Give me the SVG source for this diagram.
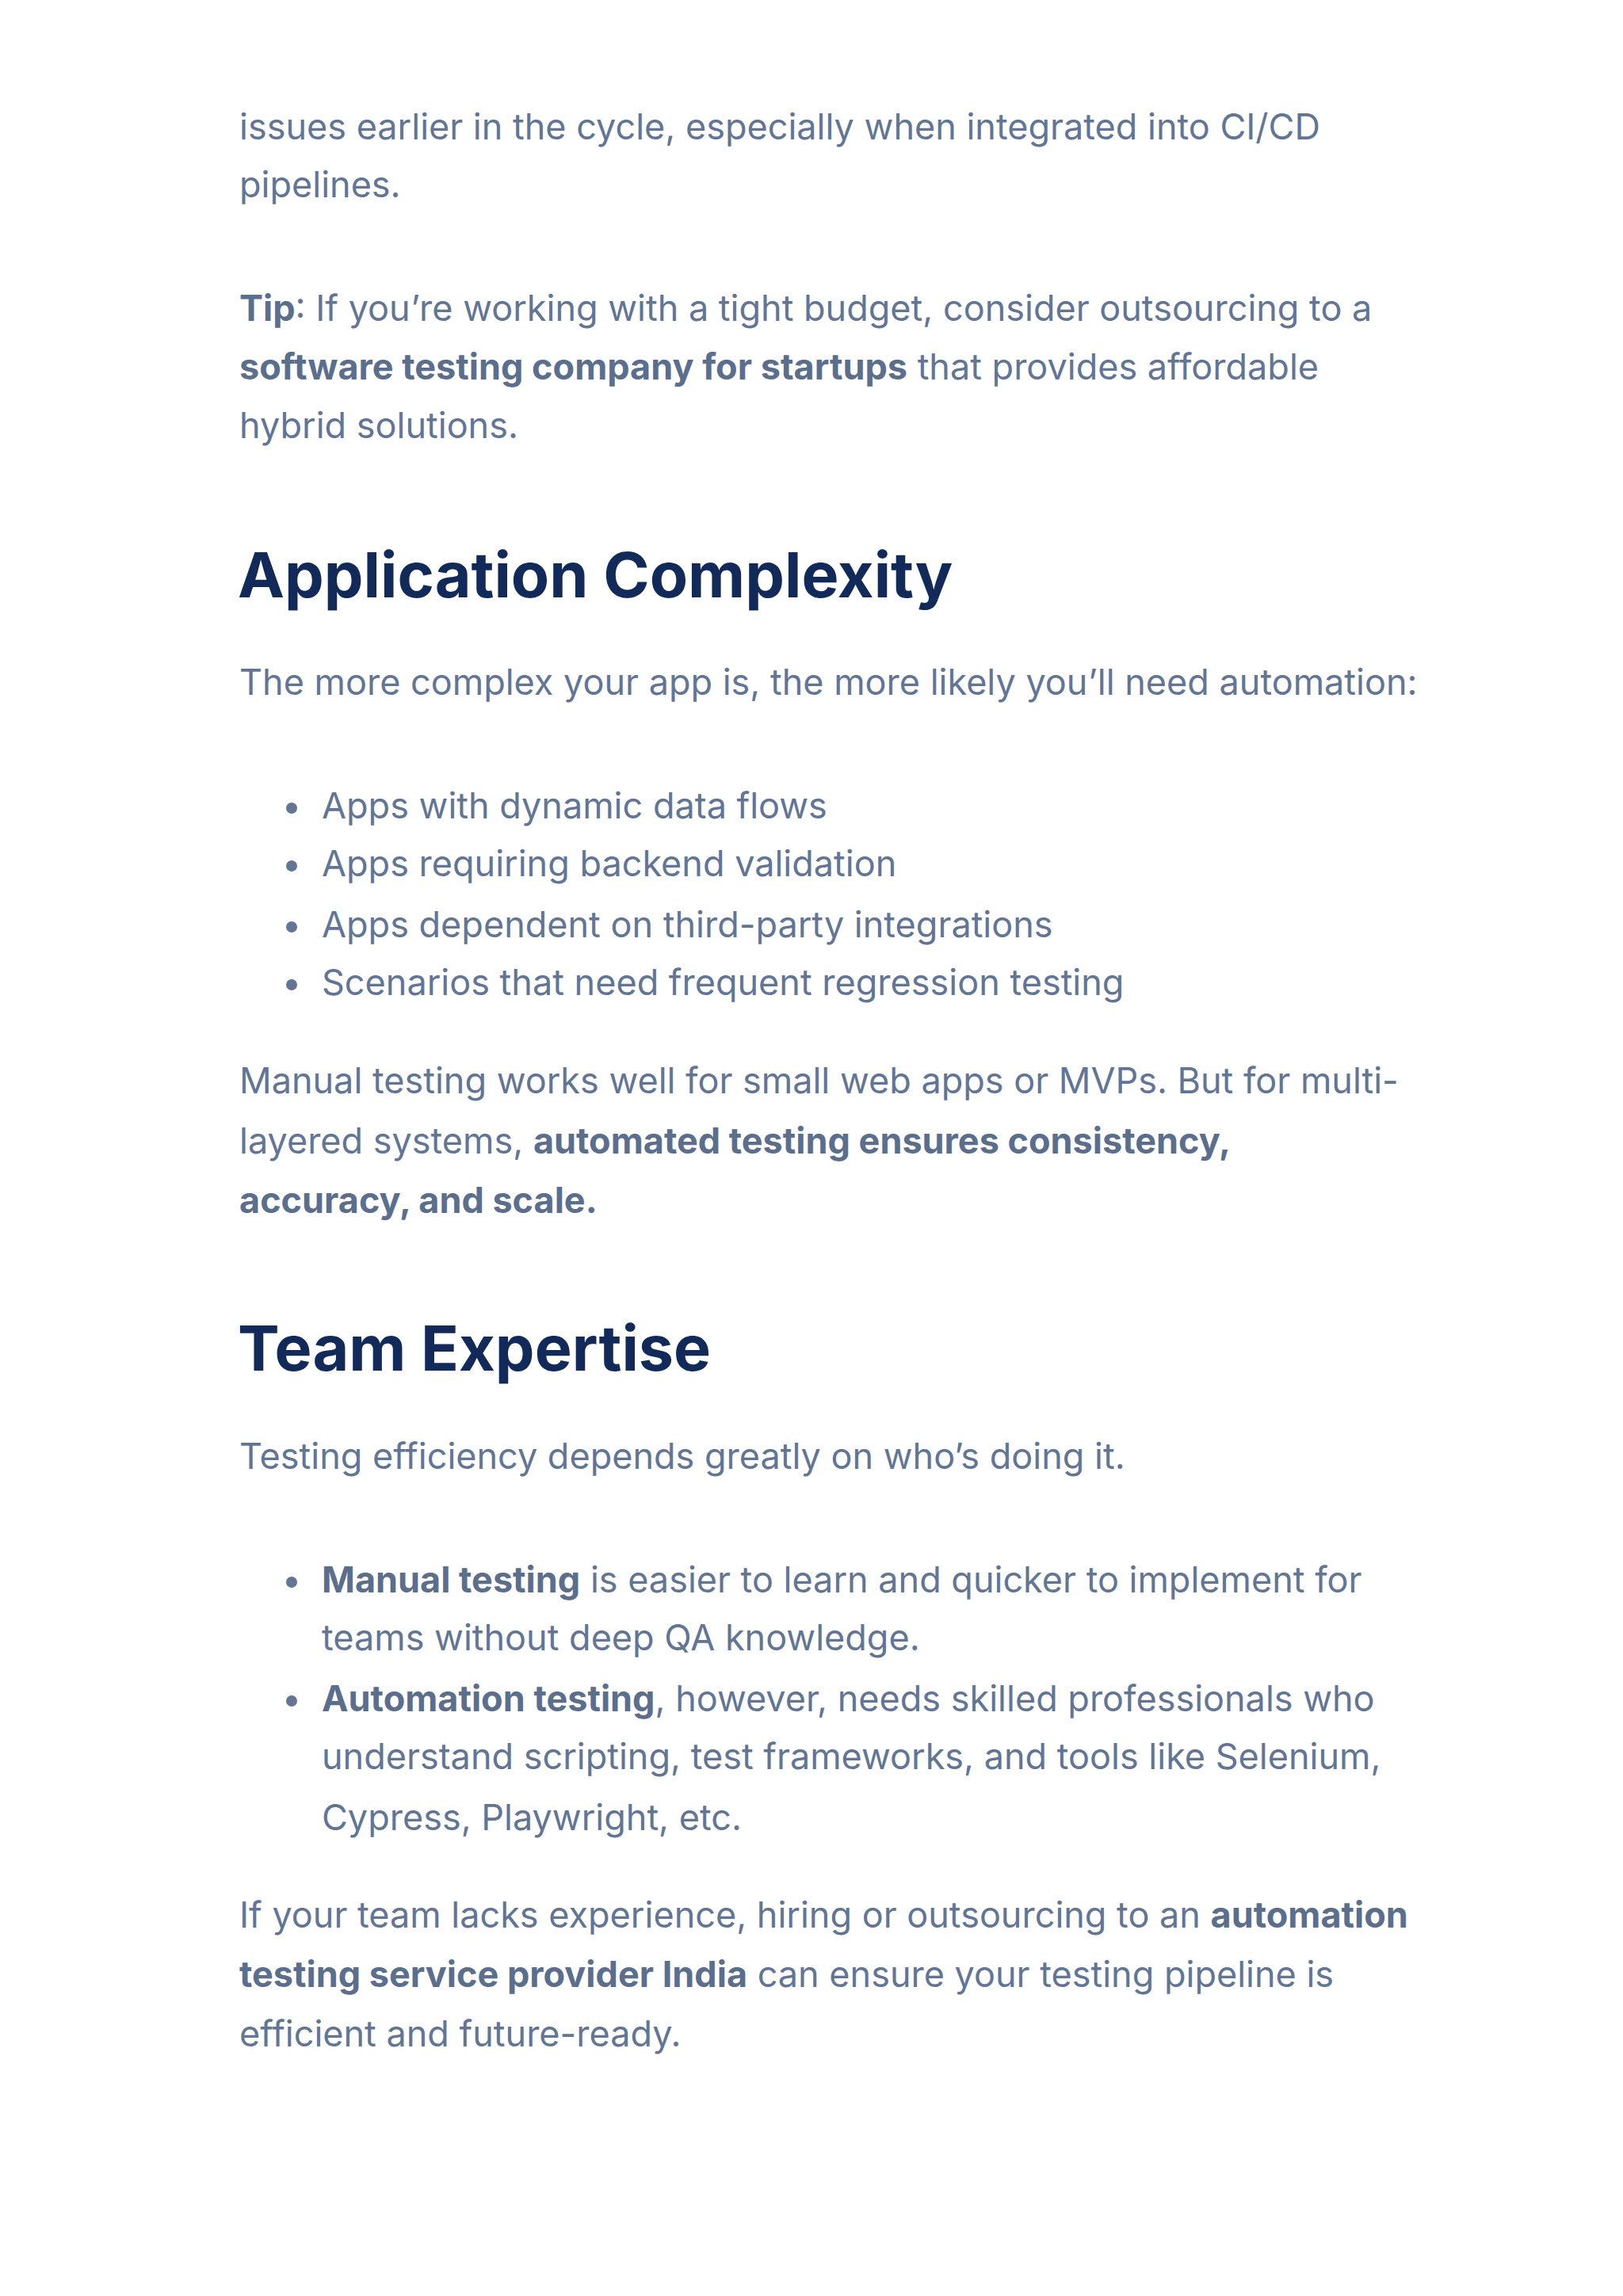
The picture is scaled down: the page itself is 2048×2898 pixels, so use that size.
<svg xmlns="http://www.w3.org/2000/svg" width="2048" height="2898" viewBox="0 0 2048 2898">
<style>
.b{font-family:Inter,"Open Sans",sans-serif;font-size:45px;fill:#627594}
.s{font-weight:700;fill:#5b6e8c}
.h{font-family:Inter,"Open Sans",sans-serif;font-size:79px;font-weight:700;fill:#112a5a}
.d{fill:#627594}
</style>
<rect width="2048" height="2898" fill="#fff"/>
<g id="p1" class="b">
<text x="302" y="176">issues earlier in the cycle, especially when integrated into CI/CD</text>
<text x="302" y="249">pipelines.</text>
</g>
<g id="tip" class="b">
<text x="302" y="405"><tspan class="s">Tip</tspan>: If you’re working with a tight budget, consider outsourcing to a</text>
<text x="302" y="479"><tspan class="s">software testing company for startups</tspan> that provides affordable</text>
<text x="302" y="553">hybrid solutions.</text>
</g>
<g id="h1"><text class="h" x="300" y="754">Application Complexity</text></g>
<g id="p2" class="b"><text x="302" y="877">The more complex your app is, the more likely you’ll need automation:</text></g>
<g id="list1" class="b">
<circle class="d" cx="368" cy="1020" r="7"/><text x="406" y="1033">Apps with dynamic data flows</text>
<circle class="d" cx="368" cy="1093" r="7"/><text x="406" y="1106">Apps requiring backend validation</text>
<circle class="d" cx="368" cy="1170" r="7"/><text x="406" y="1183">Apps dependent on third-party integrations</text>
<circle class="d" cx="368" cy="1243" r="7"/><text x="406" y="1256">Scenarios that need frequent regression testing</text>
</g>
<g id="p3" class="b">
<text x="302" y="1380">Manual testing works well for small web apps or MVPs. But for multi-</text>
<text x="302" y="1456">layered systems, <tspan class="s">automated testing ensures consistency,</tspan></text>
<text x="302" y="1531" class="s">accuracy, and scale.</text>
</g>
<g id="h2"><text class="h" x="300" y="1730">Team Expertise</text></g>
<g id="p4" class="b"><text x="302" y="1854">Testing efficiency depends greatly on who’s doing it.</text></g>
<g id="list2" class="b">
<circle class="d" cx="368" cy="1997" r="7"/><text x="406" y="2010"><tspan class="s">Manual testing</tspan> is easier to learn and quicker to implement for</text>
<text x="406" y="2083">teams without deep QA knowledge.</text>
<circle class="d" cx="368" cy="2147" r="7"/><text x="406" y="2160"><tspan class="s">Automation testing</tspan>, however, needs skilled professionals who</text>
<text x="406" y="2233">understand scripting, test frameworks, and tools like Selenium,</text>
<text x="406" y="2310">Cypress, Playwright, etc.</text>
</g>
<g id="p5" class="b">
<text x="302" y="2433">If your team lacks experience, hiring or outsourcing to an <tspan class="s">automation</tspan></text>
<text x="302" y="2508"><tspan class="s">testing service provider India</tspan> can ensure your testing pipeline is</text>
<text x="302" y="2583">efficient and future-ready.</text>
</g>
</svg>
